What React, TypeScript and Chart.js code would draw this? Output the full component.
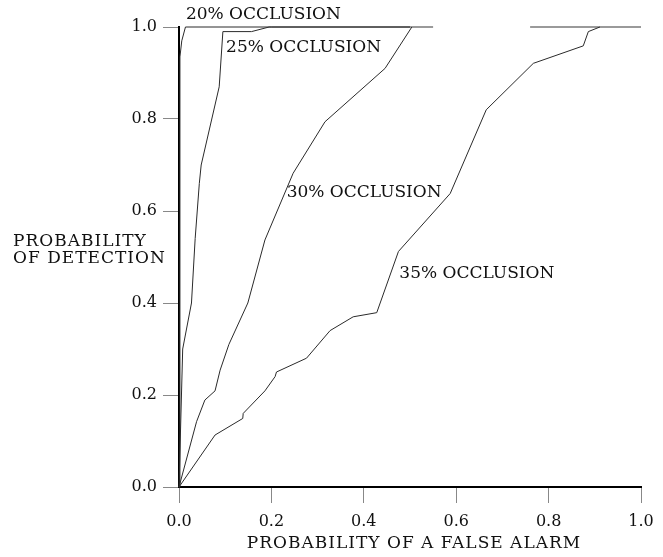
import React, { useEffect, useRef } from "react";
import { Chart, registerables } from "chart.js";

Chart.register(...registerables);

// Probability of false alarm (x) / detection (y) for each occlusion level
const occ20X = [0, 0.002, 0.002, 0.006, 0.014, 0.2, 0.5];
const occ20Y = [0, 0.5, 0.935, 0.97, 1.0, 1.0, 1.0];

const occ25X = [0, 0.008, 0.027, 0.035, 0.044, 0.048, 0.087, 0.095, 0.157, 0.195, 0.5];
const occ25Y = [0, 0.3, 0.4, 0.54, 0.66, 0.7, 0.87, 0.99, 0.99, 1.0, 1.0];

const occ30X = [0, 0.038, 0.056, 0.078, 0.089, 0.108, 0.149, 0.186, 0.247, 0.316, 0.446, 0.504];
const occ30Y = [0, 0.142, 0.189, 0.209, 0.254, 0.31, 0.4, 0.537, 0.682, 0.794, 0.91, 1.0];

const occ35X = [0, 0.078, 0.138, 0.139, 0.186, 0.208, 0.211, 0.276, 0.327, 0.377, 0.428, 0.475, 0.587, 0.665, 0.767, 0.875, 0.886, 0.911];
const occ35Y = [0, 0.113, 0.149, 0.16, 0.209, 0.24, 0.25, 0.28, 0.34, 0.37, 0.379, 0.512, 0.638, 0.82, 0.921, 0.959, 0.99, 1.0];

// faint upper edge segments at detection = 1.0
const edgeX = [0.5, 0.55, 0.65, 0.76, 1.0];
const edgeY = [1.0, 1.0, null, 1.0, 1.0];

const tickValues = [0, 0.2, 0.4, 0.6, 0.8, 1.0];
const tickLabels = ["0.0", "0.2", "0.4", "0.6", "0.8", "1.0"];

const curveNames = ["20% OCCLUSION", "25% OCCLUSION", "30% OCCLUSION", "35% OCCLUSION"];
// label anchor (left, middle) in data units
const curveLabelX = [0.015, 0.102, 0.233, 0.477];
const curveLabelY = [1.027, 0.955, 0.639, 0.465];

const xTitle = "PROBABILITY OF A FALSE ALARM";
const yTitleLines = ["PROBABILITY", "OF DETECTION"];

const FONT = '"DejaVu Serif", "Liberation Serif", serif';

function pts(xs: number[], ys: (number | null)[]) {
  return xs.map((x, i) => ({ x, y: ys[i] }));
}

const textPlugin = {
  id: "textPlugin",
  afterDraw(chart: any) {
    const { ctx, chartArea, scales } = chart;
    const xs = scales.x;
    const ys = scales.y;
    ctx.save();
    ctx.fillStyle = "#111";
    ctx.font = `17px ${FONT}`;
    ctx.textAlign = "left";
    ctx.textBaseline = "middle";
    curveNames.forEach((t, i) => {
      ctx.fillText(t, xs.getPixelForValue(curveLabelX[i]), ys.getPixelForValue(curveLabelY[i]));
    });
    // titles, slightly tracked
    (ctx as any).letterSpacing = "1px";
    ctx.textAlign = "left";
    yTitleLines.forEach((t, i) => {
      ctx.fillText(t, 13, 242 + i * 17);
    });
    ctx.textAlign = "center";
    ctx.fillText(xTitle, (chartArea.left + chartArea.right) / 2 + 4, 544);
    ctx.restore();
  },
};

export default function App() {
  const ref = useRef<HTMLCanvasElement | null>(null);
  useEffect(() => {
    if (!ref.current) return;
    const lineStyle = {
      borderColor: "#2a2a2a",
      borderWidth: 1,
      pointRadius: 0,
      fill: false,
      tension: 0,
      clip: false as any,
    };
    const scaleCommon = (axis: "x" | "y") => ({
      type: "linear" as const,
      min: 0,
      max: 1,
      afterBuildTicks: (s: any) => {
        s.ticks = tickValues.map((v) => ({ value: v }));
      },
      ticks: {
        color: "#111",
        font: { family: FONT, size: 16 },
        padding: axis === "x" ? 9 : 6,
        callback: (v: any) => {
          const i = tickValues.findIndex((t) => Math.abs(t - v) < 1e-6);
          return i >= 0 ? tickLabels[i] : "";
        },
      },
      grid: {
        drawOnChartArea: false,
        drawTicks: true,
        tickLength: 16,
        color: "#888",
        lineWidth: 1,
      },
      border: { display: true, color: "#000", width: 2 },
    });
    const chart = new Chart(ref.current, {
      type: "line",
      data: {
        datasets: [
          { label: curveNames[0], data: pts(occ20X, occ20Y), ...lineStyle },
          { label: curveNames[1], data: pts(occ25X, occ25Y), ...lineStyle },
          { label: curveNames[2], data: pts(occ30X, occ30Y), ...lineStyle },
          { label: curveNames[3], data: pts(occ35X, occ35Y), ...lineStyle },
          { label: "edge", data: pts(edgeX, edgeY), ...lineStyle, borderColor: "#9a9a9a", borderWidth: 2, spanGaps: false },
        ],
      },
      options: {
        animation: false,
        responsive: false,
        maintainAspectRatio: false,
        layout: { padding: { left: 0, right: 22, top: 27, bottom: 0 } },
        plugins: { legend: { display: false }, tooltip: { enabled: false }, title: { display: false } },
        scales: {
          x: { ...scaleCommon("x"), afterFit: (s: any) => { s.height = 70; } },
          y: { ...scaleCommon("y"), afterFit: (s: any) => { s.width = 179; } },
        },
      },
      plugins: [textPlugin],
    });
    return () => chart.destroy();
  }, []);
  return (
    <div style={{ position: "absolute", left: 0, top: 0, width: 663, height: 557, background: "#fff" }}>
      <canvas ref={ref} width={663} height={557} style={{ width: 663, height: 557 }} />
    </div>
  );
}
